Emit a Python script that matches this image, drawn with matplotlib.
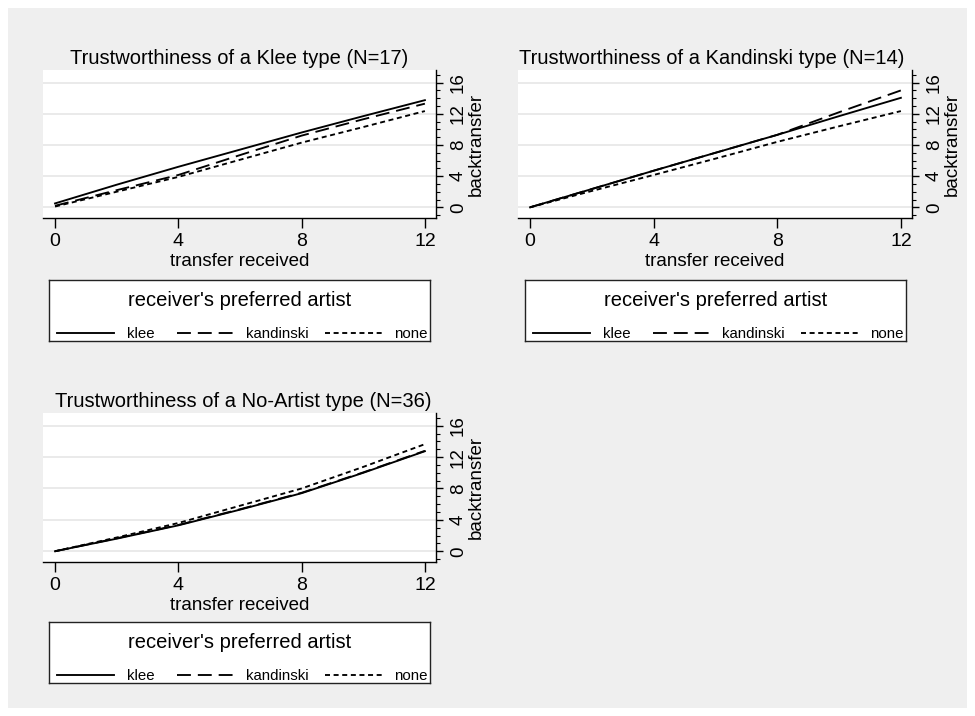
import matplotlib
matplotlib.use('Agg')
import matplotlib.pyplot as plt
from matplotlib.patches import Rectangle
from matplotlib.ticker import MultipleLocator

plt.rcParams['font.family'] = ['Liberation Sans', 'DejaVu Sans']
plt.rcParams['lines.scale_dashes'] = False

# ---------------- data ----------------
transfer = [0, 2, 4, 6, 8, 10, 12]
series_names = ['klee', 'kandinski', 'none']

klee_type_klee = [0.5, 2.9, 5.2, 7.4, 9.6, 11.7, 13.75]
klee_type_kandinski = [0.2, 2.2, 4.15, 6.7, 9.2, 11.3, 13.3]
klee_type_none = [0.1, 2.0, 3.9, 6.1, 8.3, 10.3, 12.35]

kand_type_klee = [0.0, 2.35, 4.7, 7.0, 9.3, 11.7, 14.05]
kand_type_kandinski = [0.0, 2.35, 4.7, 7.0, 9.3, 12.2, 15.0]
kand_type_none = [0.0, 2.1, 4.15, 6.25, 8.4, 10.4, 12.35]

none_type_klee = [0.0, 1.6, 3.3, 5.3, 7.4, 10.0, 12.75]
none_type_kandinski = [0.0, 1.65, 3.35, 5.35, 7.45, 10.05, 12.8]
none_type_none = [0.0, 1.75, 3.6, 5.8, 8.0, 10.75, 13.65]

panel_titles = ['Trustworthiness of a Klee type (N=17)',
                'Trustworthiness of a Kandinski type (N=14)',
                'Trustworthiness of a No-Artist type (N=36)']
x_ticks = [0, 4, 8, 12]
y_ticks = [0, 4, 8, 12, 16]
x_label = 'transfer received'
y_label = 'backtransfer'
legend_title = "receiver's preferred artist"

# ---------------- styling ----------------
W, H = 975, 716
fig = plt.figure(figsize=(W / 100, H / 100), dpi=100, facecolor='white')
BG = '#efefef'
fig.add_artist(Rectangle((8 / W, 1 - 708 / H), 959 / W, 700 / H,
                         transform=fig.transFigure, facecolor=BG,
                         edgecolor='none', zorder=0))

styles = {
    'klee': dict(linestyle='-'),
    'kandinski': dict(linestyle=(0, (10, 5))),
    'none': dict(linestyle=(0, (3.6, 2.6))),
}
LW = 1.35


def rect(left, top, right, bottom):
    return [left / W, 1 - bottom / H, (right - left) / W, (bottom - top) / H]


def panel(box, title, title_cx, data):
    left, top, right, bottom = box
    ax = fig.add_axes(rect(left, top, right, bottom))
    ax.set_facecolor('white')
    for name, vals in zip(series_names, data):
        ax.plot(transfer, vals, color='black', lw=LW, **styles[name])
    ax.set_xlim(-0.39, 12.36)
    ax.set_ylim(-1.37, 17.62)
    for s in ['left', 'top']:
        ax.spines[s].set_visible(False)
    for s in ['bottom', 'right']:
        ax.spines[s].set_color('black')
        ax.spines[s].set_linewidth(1.0)
    ax.yaxis.tick_right()
    ax.set_xticks(x_ticks)
    ax.set_yticks(y_ticks)
    ax.yaxis.set_minor_locator(MultipleLocator(1))
    ax.tick_params(axis='x', length=7, width=1, labelsize=14, pad=4)
    ax.tick_params(axis='y', which='major', length=5, width=1, labelsize=13.5,
                   pad=5, labelrotation=90)
    ax.tick_params(axis='y', which='minor', length=3, width=0.8)
    for lab in ax.get_yticklabels():
        lab.set_va('center')
    ax.grid(axis='y', which='major', color='#e8e8e8', lw=1.3)
    ax.set_axisbelow(True)
    # title
    fig.text(title_cx / W, 1 - (top - 6.5) / H, title, ha='center',
             va='baseline', fontsize=14.5)
    # axis labels
    fig.text(((left + right) / 2) / W, 1 - (bottom + 48) / H, x_label,
             ha='center', va='baseline', fontsize=13.5)
    fig.text((right + 40) / W, 1 - ((top + bottom) / 2) / H, y_label,
             ha='center', va='center', rotation=90, fontsize=13.5)
    return ax


def legend(left, top):
    w, h = 381, 61
    lg = fig.add_axes(rect(left, top, left + w, top + h))
    lg.set_facecolor('white')
    lg.set_xlim(0, w)
    lg.set_ylim(h, 0)
    lg.set_xticks([])
    lg.set_yticks([])
    for s in lg.spines.values():
        s.set_color('#222222')
        s.set_linewidth(1.0)
    lg.text(w / 2, 26, legend_title, ha='center', va='baseline', fontsize=14.5)
    key_x = {'klee': (8, 65), 'kandinski': (128, 184), 'none': (276, 334)}
    lab_x = {'klee': 78, 'kandinski': 197, 'none': 345}
    for name in series_names:
        x0, x1 = key_x[name]
        lg.plot([x0, x1], [52.5, 52.5], color='black', lw=LW, **styles[name])
        lg.text(lab_x[name], 57.5, name, ha='left', va='baseline', fontsize=10.8)


panel((43, 70, 436, 218), panel_titles[0], 239,
      [klee_type_klee, klee_type_kandinski, klee_type_none])
panel((518, 70, 912, 218), panel_titles[1], 712,
      [kand_type_klee, kand_type_kandinski, kand_type_none])
panel((43, 413, 436, 562), panel_titles[2], 243,
      [none_type_klee, none_type_kandinski, none_type_none])

legend(49, 280)
legend(525, 280)
legend(49, 622)

fig.savefig('out.png', dpi=100, facecolor='white')
